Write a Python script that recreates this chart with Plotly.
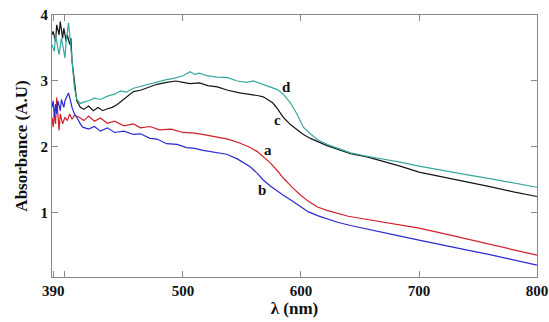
import plotly.graph_objects as go

# ---- data ----
x_d = [389,391,392,394,395,397,398,400,401,403,404,405,406,408,410,413,416,420,425,430,436,442,447,452,458,464,470,478,486,492,500,506,510,514,520,529,538,546,554,560,566,572,580,585,591,596,602,608,614,622,632,642,656,669,684,700,720,740,760,780,800]
y_d = [3.55,3.45,3.7,3.5,3.4,3.65,3.55,3.35,3.6,3.88,3.7,3.5,3.2,2.9,2.72,2.66,2.68,2.7,2.74,2.72,2.77,2.80,2.85,2.83,2.89,2.92,2.94,2.98,3.02,3.04,3.08,3.14,3.1,3.12,3.08,3.06,3.05,3.0,2.98,3.0,2.96,2.93,2.87,2.80,2.67,2.52,2.30,2.20,2.11,2.04,1.97,1.91,1.86,1.82,1.77,1.71,1.64,1.58,1.52,1.46,1.39]

x_c = [389,390,392,393,395,396,398,399,401,402,404,405,406,408,410,413,416,420,424,428,432,436,440,444,447,452,458,464,470,478,486,494,500,506,514,521,529,538,548,557,563,568,576,580,585,591,596,602,608,614,622,632,642,656,669,684,700,720,740,760,780,800]
y_c = [3.7,3.75,3.6,3.85,3.7,3.9,3.65,3.8,3.6,3.7,3.55,3.65,3.3,3.0,2.7,2.6,2.57,2.62,2.55,2.6,2.55,2.58,2.6,2.64,2.68,2.75,2.84,2.86,2.9,2.95,2.98,3.0,2.98,2.96,2.97,2.93,2.91,2.86,2.82,2.80,2.78,2.76,2.67,2.58,2.45,2.34,2.27,2.19,2.13,2.08,2.02,1.96,1.90,1.85,1.79,1.71,1.62,1.55,1.47,1.40,1.32,1.25]

x_a = [389,390,391,392,393,394,395,396,398,400,402,404,406,408,412,416,420,425,430,436,442,450,458,464,472,480,490,500,510,520,529,538,548,556,563,568,574,580,585,592,599,606,614,622,631,640,650,660,670,684,700,720,740,760,780,800]
y_a = [2.45,2.3,2.5,2.35,2.75,2.4,2.25,2.5,2.35,2.45,2.4,2.5,2.42,2.48,2.45,2.40,2.47,2.39,2.44,2.36,2.39,2.32,2.35,2.29,2.31,2.26,2.27,2.22,2.21,2.18,2.15,2.12,2.06,2.00,1.93,1.85,1.76,1.64,1.53,1.40,1.28,1.18,1.09,1.04,0.99,0.95,0.92,0.89,0.86,0.82,0.77,0.69,0.61,0.53,0.45,0.36]

x_b = [389,390,391,392,393,394,396,397,399,400,402,403,404,406,408,410,413,415,420,425,430,436,442,450,458,464,472,478,486,495,503,510,517,523,529,537,546,552,557,563,568,574,580,585,592,599,606,614,622,631,642,656,669,684,700,720,740,760,780,800]
y_b = [2.6,2.7,2.45,2.65,2.5,2.7,2.55,2.72,2.6,2.7,2.78,2.82,2.75,2.6,2.5,2.45,2.35,2.3,2.27,2.31,2.24,2.29,2.22,2.24,2.19,2.20,2.13,2.12,2.05,2.04,1.99,1.98,1.95,1.93,1.92,1.89,1.82,1.76,1.70,1.60,1.50,1.41,1.33,1.27,1.19,1.10,1.02,0.96,0.91,0.86,0.81,0.76,0.71,0.65,0.59,0.51,0.44,0.37,0.29,0.21]

x_tickvals = [390, 500, 600, 700, 800]
x_ticktext = ["390", "500", "600", "700", "800"]
y_tickvals = [1, 2, 3, 4]

labels = ["d", "c", "a", "b"]
label_x = [588, 580, 572, 567]
label_y = [2.91, 2.41, 1.95, 1.35]

series = [
    (x_a, y_a, "#d0202c", "a"),
    (x_b, y_b, "#2a2ad0", "b"),
    (x_c, y_c, "#151515", "c"),
    (x_d, y_d, "#35a8a0", "d"),
]

SERIF = "Liberation Serif, DejaVu Serif, Times New Roman, serif"

fig = go.Figure()
for xs, ys, col, nm in series:
    fig.add_trace(go.Scatter(x=xs, y=ys, mode="lines", name=nm,
                             line=dict(color=col, width=1.2)))

for t, lx, ly in zip(labels, label_x, label_y):
    fig.add_annotation(x=lx, y=ly, text=t, showarrow=False,
                       font=dict(family=SERIF, size=15, color="#111", weight="bold"))

axis_common = dict(showline=True, linecolor="#888", linewidth=1, mirror="ticks",
                   ticks="inside", tickcolor="#888", ticklen=6, showgrid=False,
                   zeroline=False, automargin=False,
                   tickfont=dict(family=SERIF, size=15, color="#111", weight="bold"))

fig.update_xaxes(range=[389, 800], tickvals=x_tickvals, ticktext=x_ticktext,
                 title=dict(text="λ (nm)", standoff=2,
                            font=dict(family=SERIF, size=17, color="#111", weight="bold")),
                 minor=dict(tickvals=[400], ticks="inside", ticklen=6, tickcolor="#888"),
                 **axis_common)
fig.update_yaxes(range=[0.03, 4.0], tickvals=y_tickvals,
                 title=dict(text="Absorbance (A.U)", standoff=8,
                            font=dict(family=SERIF, size=17, color="#111", weight="bold")),
                 **axis_common)

fig.update_layout(width=549, height=322, margin=dict(l=52, r=12, t=15, b=45),
                  plot_bgcolor="white", paper_bgcolor="white", showlegend=False)

# remove the default page margin so the figure fills the window exactly
fig.write_html("out.html", config={"displayModeBar": False},
               post_script="document.body.style.margin='0';")
